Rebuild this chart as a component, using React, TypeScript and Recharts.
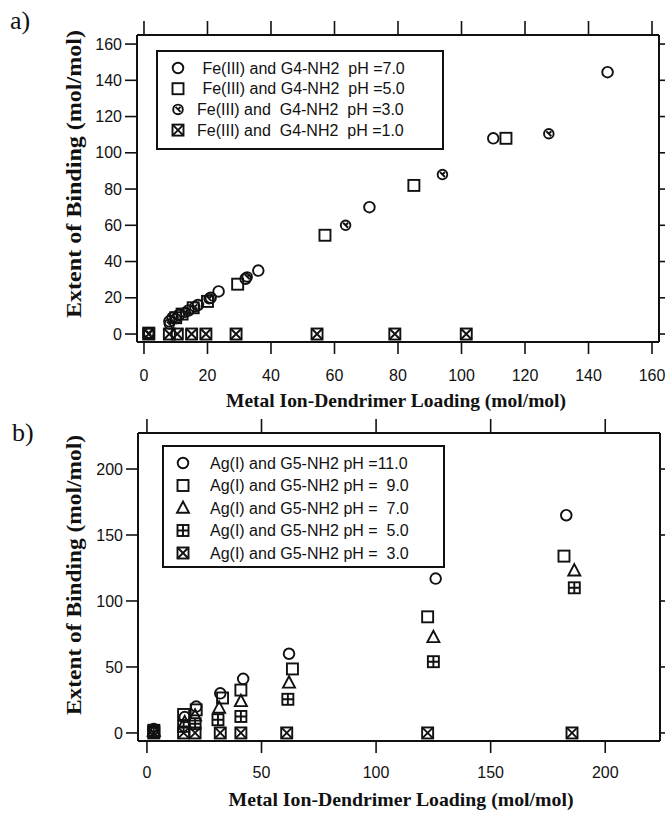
import React from 'react';
import { ScatterChart, Scatter, XAxis, YAxis, Label } from 'recharts';

// ---------- a) Fe(III) binding to G4-NH2 ----------
const FE_PH7_X = [1.5, 8, 9, 11, 14, 17, 21, 23.5, 32, 36, 71, 110, 146];
const FE_PH7_Y = [0.5, 7, 9, 10.5, 13, 16, 20, 23.5, 30.5, 35, 70, 108, 144.5];
const FE_PH5_X = [1.5, 10, 12, 15.5, 20, 29.5, 57, 85, 114];
const FE_PH5_Y = [0.5, 9, 11, 14.5, 18, 27.5, 54.5, 82, 108];
const FE_PH3_X = [1.5, 8, 10, 13, 16, 20.5, 32.5, 63.5, 94, 127.5];
const FE_PH3_Y = [0.5, 5.5, 8.5, 12, 15, 19.5, 31.5, 60, 88, 110.5];
const FE_PH1_X = [1.5, 8, 10.5, 15, 19.5, 29, 54.5, 79, 101.5];
const FE_PH1_Y = [0, 0, 0, 0, 0, 0, 0, 0, 0];
const FE_X_TICKS = [0, 20, 40, 60, 80, 100, 120, 140, 160];
const FE_Y_TICKS = [0, 20, 40, 60, 80, 100, 120, 140, 160];

// ---------- b) Ag(I) binding to G5-NH2 ----------
const AG_PH11_X = [3, 16.5, 21.5, 32, 42, 62, 126, 183];
const AG_PH11_Y = [3, 12, 20, 30, 41, 60, 117, 165];
const AG_PH9_X = [3, 16, 21.5, 33, 41, 63.5, 122.5, 182];
const AG_PH9_Y = [2, 14, 17.5, 26.5, 32.5, 48.5, 88, 134];
const AG_PH7_X = [3, 16.5, 21, 31.5, 41, 62, 125, 186.5];
const AG_PH7_Y = [1.5, 8, 13, 19, 24, 38, 72.5, 123];
const AG_PH5_X = [3, 16, 21, 31, 41, 61.5, 125, 186.5];
const AG_PH5_Y = [1, 5, 7, 10, 12.5, 25.5, 54, 110];
const AG_PH3_X = [3, 16, 21, 32, 41, 61, 122.5, 185.5];
const AG_PH3_Y = [0, 0, 0, 0, 0, 0, 0, 0];
const AG_X_TICKS = [0, 50, 100, 150, 200];
const AG_Y_TICKS = [0, 50, 100, 150, 200];

const FE_LABELS = [
  ' Fe(III) and G4-NH2  pH =7.0',
  ' Fe(III) and G4-NH2  pH =5.0',
  'Fe(III) and  G4-NH2  pH =3.0',
  'Fe(III) and  G4-NH2  pH =1.0',
];
const AG_LABELS = [
  'Ag(I) and G5-NH2 pH =11.0',
  'Ag(I) and G5-NH2 pH =  9.0',
  'Ag(I) and G5-NH2 pH =  7.0',
  'Ag(I) and G5-NH2 pH =  5.0',
  'Ag(I) and G5-NH2 pH =  3.0',
];

const INK = '#111';
const SANS = "'Liberation Sans', Arial, sans-serif";
const SERIF = "'Liberation Serif', 'Times New Roman', serif";

const pts = (xs: number[], ys: number[]) => xs.map((x, i) => ({ x, y: ys[i] }));

// ---------- marker glyphs ----------
type MarkProps = { cx?: number; cy?: number };
const SW = 1.9;
const H = 5.5; // half-size of the square markers

const OpenCircle = ({ cx = 0, cy = 0 }: MarkProps) => (
  <circle cx={cx} cy={cy} r={5.3} fill="none" stroke={INK} strokeWidth={SW} />
);
const OpenSquare = ({ cx = 0, cy = 0 }: MarkProps) => (
  <rect x={cx - H} y={cy - H} width={2 * H} height={2 * H} fill="none" stroke={INK} strokeWidth={SW} />
);
const CrossedCircle = ({ cx = 0, cy = 0 }: MarkProps) => (
  <g stroke={INK} strokeWidth={SW} fill="none">
    <circle cx={cx} cy={cy} r={4.8} />
    <path d={`M${cx - 2.5},${cy - 2.5} L${cx + 2.5},${cy + 2.5} M${cx + 2.5},${cy - 2.5} L${cx},${cy}`} />
  </g>
);
const CrossedSquare = ({ cx = 0, cy = 0 }: MarkProps) => (
  <g stroke={INK} strokeWidth={SW} fill="none">
    <rect x={cx - H} y={cy - H} width={2 * H} height={2 * H} />
    <path d={`M${cx - H},${cy - H} L${cx + H},${cy + H} M${cx + H},${cy - H} L${cx - H},${cy + H}`} />
  </g>
);
const PlusSquare = ({ cx = 0, cy = 0 }: MarkProps) => (
  <g stroke={INK} strokeWidth={SW} fill="none">
    <rect x={cx - H} y={cy - H} width={2 * H} height={2 * H} />
    <path d={`M${cx},${cy - H} L${cx},${cy + H} M${cx - H},${cy} L${cx + H},${cy}`} />
  </g>
);
const OpenTriangle = ({ cx = 0, cy = 0 }: MarkProps) => (
  <path
    d={`M${cx},${cy - 6.5} L${cx + 6},${cy + 4.8} L${cx - 6},${cy + 4.8} Z`}
    fill="none"
    stroke={INK}
    strokeWidth={SW}
  />
);

// ---------- legend box ----------
interface LegendBoxProps {
  left: number;
  top: number;
  width: number;
  height: number;
  firstRow: number;
  rowGap: number;
  markX: number;
  textX: number[];
  marks: React.FC<MarkProps>[];
  labels: string[];
}

const LegendBox: React.FC<LegendBoxProps> = ({ left, top, width, height, firstRow, rowGap, markX, textX, marks, labels }) => (
  <div
    style={{
      position: 'absolute',
      left,
      top,
      width,
      height,
      border: `2px solid ${INK}`,
      background: '#fff',
      boxSizing: 'border-box',
    }}
  >
    <svg width={width} height={height} style={{ position: 'absolute', left: -2, top: -2 }}>
      {labels.map((txt, i) => {
        const Mark = marks[i];
        const y = firstRow + i * rowGap;
        return (
          <g key={txt}>
            <Mark cx={markX} cy={y} />
            <text
              x={textX[i]}
              y={y}
              dy="0.36em"
              fill={INK}
              fontSize={16}
              fontFamily={SANS}
              style={{ whiteSpace: 'pre' }}
            >
              {txt}
            </text>
          </g>
        );
      })}
    </svg>
  </div>
);

// ---------- shared axis styling ----------
const axisLine = { stroke: INK, strokeWidth: 2 };
const tickLine = { stroke: INK, strokeWidth: 1.6 };
const tickText = { fill: INK, fontSize: 16, fontFamily: SANS };
const blank = () => '';

const yTitle = (cx: number, cy: number, len: number) => () => (
  <text
    x={cx}
    y={cy}
    transform={`rotate(-90 ${cx} ${cy})`}
    textAnchor="middle"
    dominantBaseline="central"
    fontFamily={SERIF}
    fontWeight="bold"
    fontSize={20}
    fill={INK}
    textLength={len}
    lengthAdjust="spacingAndGlyphs"
  >
    Extent of Binding (mol/mol)
  </text>
);

const xTitle = (cx: number, y: number, len: number) => () => (
  <text
    x={cx}
    y={y}
    textAnchor="middle"
    fontFamily={SERIF}
    fontWeight="bold"
    fontSize={19}
    fill={INK}
    textLength={len}
    lengthAdjust="spacingAndGlyphs"
  >
    Metal Ion-Dendrimer Loading (mol/mol)
  </text>
);

const FePanel = () => (
  <ScatterChart width={665} height={420} margin={{ top: 15, right: 0, bottom: 38, left: 77 }}>
    <XAxis
      xAxisId="b"
      type="number"
      dataKey="x"
      domain={[-2.2, 162.2]}
      ticks={FE_X_TICKS}
      interval={0}
      allowDataOverflow
      height={40}
      tickSize={12}
      tickMargin={16}
      axisLine={axisLine}
      tickLine={tickLine}
      tick={tickText}
    >
      <Label content={xTitle(396, 407, 340)} />
    </XAxis>
    <XAxis
      xAxisId="t"
      orientation="top"
      type="number"
      dataKey="x"
      domain={[-2.2, 162.2]}
      ticks={FE_X_TICKS}
      interval={0}
      allowDataOverflow
      height={20}
      tickSize={14}
      axisLine={axisLine}
      tickLine={tickLine}
      tickFormatter={blank}
    />
    <YAxis
      yAxisId="l"
      type="number"
      dataKey="y"
      domain={[-4.4, 165]}
      ticks={FE_Y_TICKS}
      interval={0}
      allowDataOverflow
      width={60}
      tickSize={12}
      tickMargin={3}
      axisLine={axisLine}
      tickLine={tickLine}
      tick={tickText}
    >
      <Label content={yTitle(74, 174, 288)} />
    </YAxis>
    <YAxis
      yAxisId="r"
      orientation="right"
      type="number"
      dataKey="y"
      domain={[-4.4, 165]}
      ticks={FE_Y_TICKS}
      interval={0}
      allowDataOverflow
      width={6}
      tickSize={8}
      axisLine={axisLine}
      tickLine={tickLine}
      tickFormatter={blank}
    />
    <Scatter xAxisId="b" yAxisId="l" data={pts(FE_PH1_X, FE_PH1_Y)} shape={CrossedSquare} isAnimationActive={false} />
    <Scatter xAxisId="b" yAxisId="l" data={pts(FE_PH5_X, FE_PH5_Y)} shape={OpenSquare} isAnimationActive={false} />
    <Scatter xAxisId="b" yAxisId="l" data={pts(FE_PH3_X, FE_PH3_Y)} shape={CrossedCircle} isAnimationActive={false} />
    <Scatter xAxisId="b" yAxisId="l" data={pts(FE_PH7_X, FE_PH7_Y)} shape={OpenCircle} isAnimationActive={false} />
  </ScatterChart>
);

const AgPanel = () => (
  <ScatterChart width={665} height={413} margin={{ top: 13, right: 0, bottom: 32, left: 78 }}>
    <XAxis
      xAxisId="b"
      type="number"
      dataKey="x"
      domain={[-3.9, 223.9]}
      ticks={AG_X_TICKS}
      interval={0}
      allowDataOverflow
      height={40}
      tickSize={12}
      tickMargin={14}
      axisLine={axisLine}
      tickLine={tickLine}
      tick={tickText}
    >
      <Label content={xTitle(401, 406, 345)} />
    </XAxis>
    <XAxis
      xAxisId="t"
      orientation="top"
      type="number"
      dataKey="x"
      domain={[-3.9, 223.9]}
      ticks={AG_X_TICKS}
      interval={0}
      allowDataOverflow
      height={20}
      tickSize={14}
      axisLine={axisLine}
      tickLine={tickLine}
      tickFormatter={blank}
    />
    <YAxis
      yAxisId="l"
      type="number"
      dataKey="y"
      domain={[-6.1, 227.3]}
      ticks={AG_Y_TICKS}
      interval={0}
      allowDataOverflow
      width={60}
      tickSize={12}
      tickMargin={3}
      axisLine={axisLine}
      tickLine={tickLine}
      tick={tickText}
    >
      <Label content={yTitle(74, 175, 280)} />
    </YAxis>
    <YAxis
      yAxisId="r"
      orientation="right"
      type="number"
      dataKey="y"
      domain={[-6.1, 227.3]}
      ticks={AG_Y_TICKS}
      interval={0}
      allowDataOverflow
      width={5}
      tickSize={8}
      axisLine={axisLine}
      tickLine={tickLine}
      tickFormatter={blank}
    />
    <Scatter xAxisId="b" yAxisId="l" data={pts(AG_PH3_X, AG_PH3_Y)} shape={CrossedSquare} isAnimationActive={false} />
    <Scatter xAxisId="b" yAxisId="l" data={pts(AG_PH5_X, AG_PH5_Y)} shape={PlusSquare} isAnimationActive={false} />
    <Scatter xAxisId="b" yAxisId="l" data={pts(AG_PH7_X, AG_PH7_Y)} shape={OpenTriangle} isAnimationActive={false} />
    <Scatter xAxisId="b" yAxisId="l" data={pts(AG_PH9_X, AG_PH9_Y)} shape={OpenSquare} isAnimationActive={false} />
    <Scatter xAxisId="b" yAxisId="l" data={pts(AG_PH11_X, AG_PH11_Y)} shape={OpenCircle} isAnimationActive={false} />
  </ScatterChart>
);

const panelTag: React.CSSProperties = {
  position: 'absolute',
  fontFamily: SERIF,
  fontSize: 26,
  lineHeight: 1,
  color: INK,
};

export default function App() {
  return (
    <div style={{ position: 'absolute', left: 0, top: 0, width: 665, height: 813, background: '#fff' }}>
      <div style={{ position: 'absolute', left: 0, top: 0 }}>
        <FePanel />
      </div>
      <div style={{ position: 'absolute', left: 0, top: 400 }}>
        <AgPanel />
      </div>
      <div style={{ ...panelTag, left: 10, top: 8 }}>a)</div>
      <div style={{ ...panelTag, left: 12, top: 420 }}>b)</div>
      <LegendBox
        left={156}
        top={50}
        width={288}
        height={100}
        firstRow={18}
        rowGap={20.7}
        markX={22}
        textX={[42, 42, 41, 41]}
        marks={[OpenCircle, OpenSquare, CrossedCircle, CrossedSquare]}
        labels={FE_LABELS}
      />
      <LegendBox
        left={162}
        top={445}
        width={283}
        height={123}
        firstRow={18}
        rowGap={22.5}
        markX={21}
        textX={[48, 48, 48, 48, 48]}
        marks={[OpenCircle, OpenSquare, OpenTriangle, PlusSquare, CrossedSquare]}
        labels={AG_LABELS}
      />
    </div>
  );
}
